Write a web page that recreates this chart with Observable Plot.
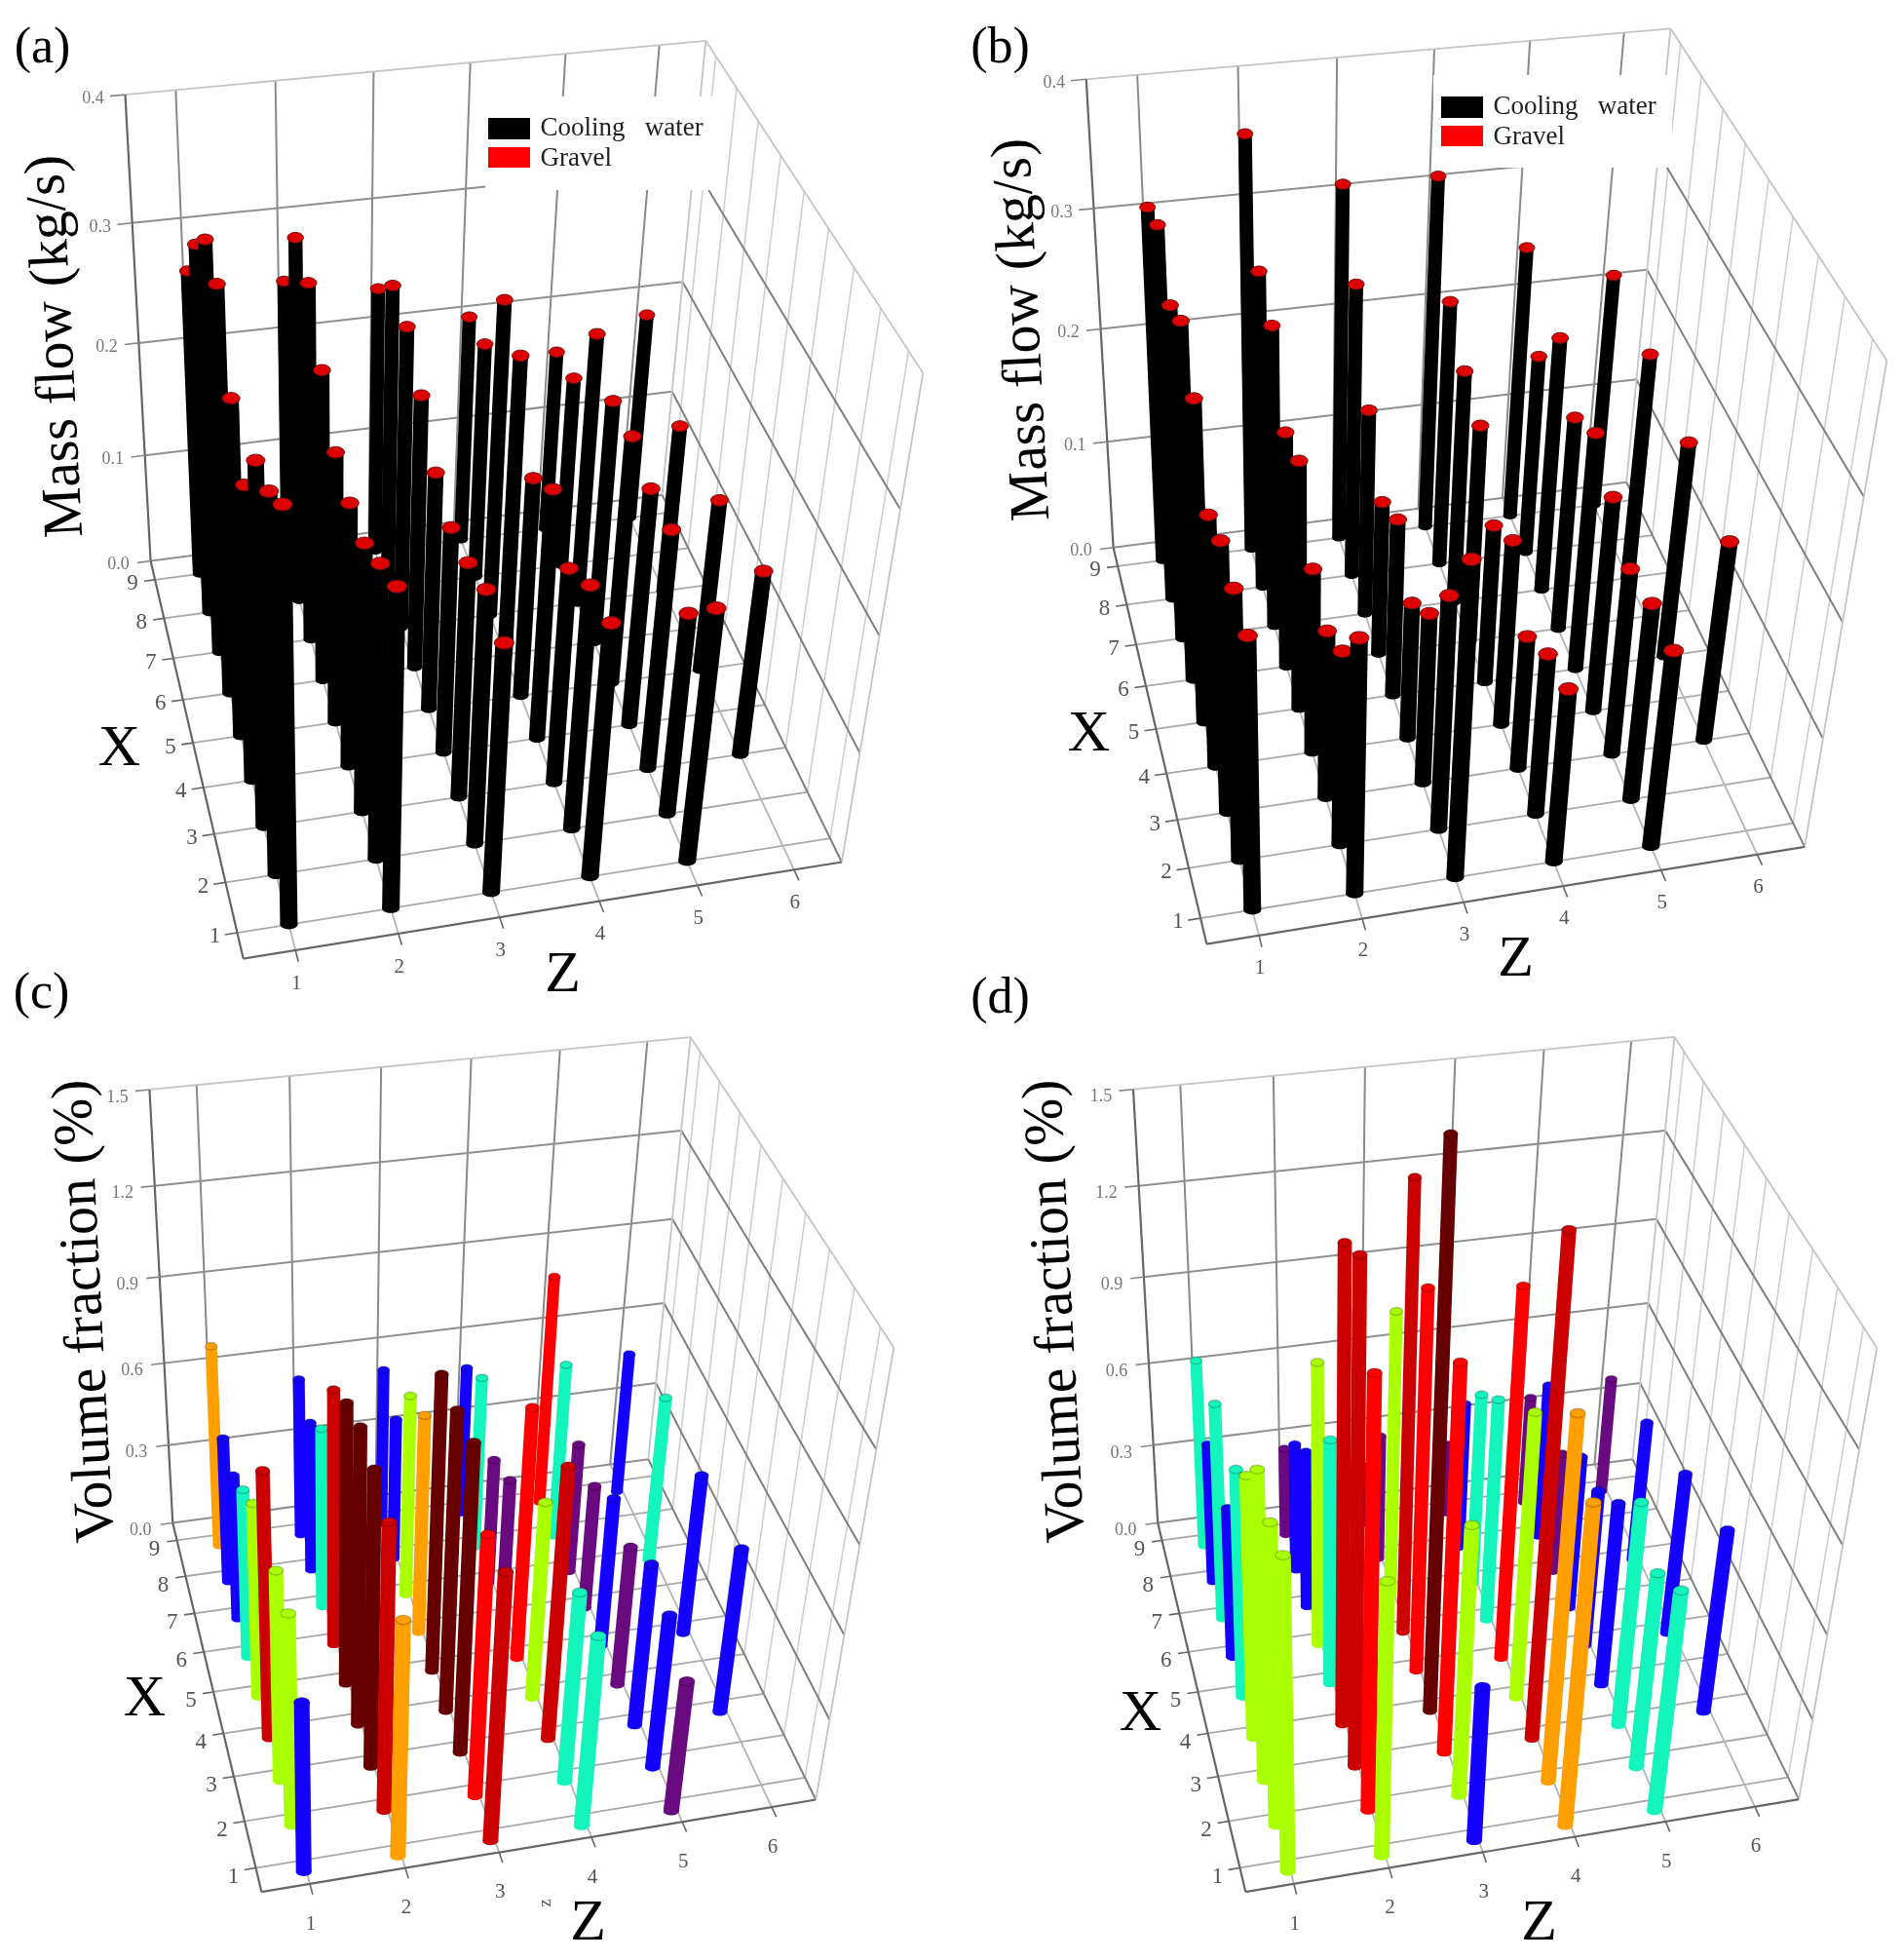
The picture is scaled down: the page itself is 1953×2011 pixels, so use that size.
<!DOCTYPE html>
<html><head><meta charset="utf-8">
<script src="https://cdn.jsdelivr.net/npm/d3@7"></script>
<script src="https://cdn.jsdelivr.net/npm/@observablehq/plot@0.6"></script>
<style>html,body{margin:0;background:#fff}svg{display:block;filter:blur(.7px)}</style></head><body><div id="c"></div>
<script>
// Categories and ticks
const xTicks=[1,2,3,4,5,6,7,8,9];
const zTicks=[1,2,3,4,5,6];
const massTicks=[0,.1,.2,.3,.4];
const fractionTicks=[0,.3,.6,.9,1.2,1.5];
const seriesNames=["Cooling\u00A0\u00A0\u00A0water","Gravel"];

// Series: one row per Z, one value per X = 1..9
const massA=[
[.345,.320,.309,.256,.291,.348,.353,.321,.271],
[.273,.254,.234,.231,.238,.272,.311,.318,.254],
[.217,.222,.207,.200,.211,.242,.267,.271,.239],
[.221,.214,.191,.221,.196,.265,.280,.213,.206],
[.221,.179,.212,.211,.221,.218,.243,.174,.166],
[null,null,.166,null,.156,null,.154,null,.190]];
const massB=[
[.236,.235,.236,.221,.280,.309,.291,.325,.311],
[.222,.172,.150,.165,.220,.210,.266,.280,.361],
[.272,.206,.153,.124,.160,.140,.186,.261,.314],
[.155,.145,.121,.167,.144,.196,.210,.238,.313],
[.175,.176,.168,.193,.213,.193,.229,.182,.246],
[null,null,.180,null,.195,null,.206,null,.214]];
const fractionC=[
[.568,.714,.712,.904,.662,.575,.493,.497,.701],
[.793,.965,.998,1.004,.957,.876,.618,.513,.546],
[.901,.881,1.042,1.018,1.011,.751,.694,.485,.542],
[.643,.643,.925,.672,.864,.482,.425,.597,.512],
[.436,.517,.551,.471,.508,.419,.441,.606,.803],
[null,null,.560,null,.548,null,.571,null,.488]];
const fractionD=[
[1.046,1.009,1.040,.889,.778,.510,.744,.475,.651],
[.919,1.416,1.634,1.560,.835,.967,.537,.435,.290],
[.519,.912,1.289,1.830,1.283,1.508,.981,.424,.182],
[1.077,1.220,1.638,.973,1.254,.766,.660,.503,.225],
[.749,.663,.765,.625,.535,.525,.407,.532,.363],
[null,null,.625,null,.553,null,.481,null,.395]];
// Colour class of each bar in (c) and (d), same layout as the series
const classC=[
[1,3,3,6,3,2,1,1,4],[4,6,7,7,7,6,2,1,1],[6,5,7,7,7,4,3,1,1],[2,2,6,3,5,0,0,2,1],[0,1,1,0,1,0,0,2,5],
[null,null,1,null,1,null,2,null,1]];
const classD=[
[3,3,3,3,2,1,2,1,2],[3,5,6,6,2,3,1,1,0],[1,3,5,7,5,6,3,0,0],[4,4,6,3,5,2,2,1,0],[2,2,2,1,1,1,0,1,0],
[null,null,1,null,1,null,1,null,0]];

// Camera calibration of each 3-D box
const SX=1.607,SY=1.568;
const panels=[
{off:[0,0],vmax:.4,levels:massTicks,values:massA,zdy:33,xdy:3,vdy:3,base:0,
 bl:[[250,900],[237,732],[227,550],[218,358],[205,153]],br:[[1090,800],[1107,628],[1125,450],[1145,265],[1163,65]],fr:[[1387,1385],[1418,1210],[1450,1020],[1485,820],[1520,600]],fl:[400,1543]},
{off:[976,0],vmax:.4,levels:massTicks,values:massB,zdy:32,xdy:3,vdy:3,base:0,
 bl:[[270,880],[255,708],[245,525],[235,335],[222,130]],br:[[1112,780],[1130,610],[1147,430],[1167,245],[1185,45]],fr:[[1407,1360],[1437,1185],[1470,1000],[1505,800],[1543,580]],fl:[420,1520]},
{off:[0,1000],vmax:1.5,levels:fractionTicks,values:fractionC,classes:classC,zdy:40,xdy:8,vdy:7,base:-.045,
 bl:[[283,880],[278,757],[272,625],[263,485],[255,340],[243,183]],br:[[1065,780],[1082,655],[1095,528],[1108,392],[1122,250],[1140,100]],fr:[[1345,1328],[1368,1197],[1393,1060],[1418,915],[1445,765],[1470,600]],fl:[430,1475]},
{off:[976,1000],vmax:1.5,levels:fractionTicks,values:fractionD,classes:classD,zdy:40,xdy:8,vdy:7,base:-.045,
 bl:[[340,880],[333,757],[327,625],[318,485],[308,340],[298,183]],br:[[1120,780],[1137,655],[1150,528],[1163,392],[1177,250],[1193,100]],fr:[[1398,1328],[1420,1197],[1445,1060],[1470,915],[1497,765],[1525,600]],fl:[485,1475]}
];
function solve(A,b){const n=b.length,M=A.map((r,i)=>[...r,b[i]]);for(let i=0;i<n;i++){let p=i;for(let k=i+1;k<n;k++)if(Math.abs(M[k][i])>Math.abs(M[p][i]))p=k;[M[i],M[p]]=[M[p],M[i]];for(let k=i+1;k<n;k++){const f=M[k][i]/M[i][i];for(let j=i;j<=n;j++)M[k][j]-=f*M[i][j];}}const x=Array(n);for(let i=n-1;i>=0;i--){let s=M[i][n];for(let j=i+1;j<n;j++)s-=M[i][j]*x[j];x[i]=s/M[i][i];}return x;}
function fit(rows){const A=[],b=[];for(const [X,Z,T,u,v] of rows){A.push([X,Z,T,1,0,0,0,0,-u*X,-u*Z,-u*T]);b.push(u);A.push([0,0,0,0,X,Z,T,1,-v*X,-v*Z,-v*T]);b.push(v);}
 const n=11,N=Array.from({length:n},()=>Array(n).fill(0)),r=Array(n).fill(0);A.forEach((a,i)=>{for(let j=0;j<n;j++){r[j]+=a[j]*b[i];for(let k=0;k<n;k++)N[j][k]+=a[j]*a[k];}});return solve(N,r);}
const W=1953,H=2011;
const palette=["#6a0a80","#1400ff","#14f5bd","#aaff00","#ff9f00","#ff0000","#cc0000","#660000","#000000"];
const marks=[];
const ell=(ratio)=>({draw(c,size){const r=Math.sqrt(size/Math.PI),rx=r,ry=r*ratio,k=.5523;c.moveTo(rx,0);c.bezierCurveTo(rx,k*ry,k*rx,ry,0,ry);c.bezierCurveTo(-k*rx,ry,-rx,k*ry,-rx,0);c.bezierCurveTo(-rx,-k*ry,-k*rx,-ry,0,-ry);c.bezierCurveTo(k*rx,-ry,rx,-k*ry,rx,0);c.closePath();}});
panels.forEach((p)=>{
 const cv=(q)=>[(p.off[0]+q[0]/SX)/1000,(p.off[1]+q[1]/SY)/1000];
 const rows=[];
 p.levels.forEach((l,i)=>{const t=l/p.vmax;rows.push([1,0,t,...cv(p.bl[i])]);rows.push([1,1,t,...cv(p.br[i])]);rows.push([0,1,t,...cv(p.fr[i])]);});
 rows.push([0,0,0,...cv(p.fl)]);
 const m=fit(rows);
 const nx=x=>(x-.5)/9,nz=z=>(z-.5)/6;
 const P=(x,z,v)=>{const X=nx(x),Z=nz(z),T=v/p.vmax,w=m[8]*X+m[9]*Z+m[10]*T+1;return {x:1000*(m[0]*X+m[1]*Z+m[2]*T+m[3])/w,y:1000*(m[4]*X+m[5]*Z+m[6]*T+m[7])/w};};
 const seg=(a,b)=>{const A=P(...a),B=P(...b);return {x1:A.x,y1:A.y,x2:B.x,y2:B.y};};
 const L=(segs,stroke,sw)=>marks.push(Plot.link(segs,{x1:"x1",y1:"y1",x2:"x2",y2:"y2",stroke,strokeWidth:sw}));
 const top=p.vmax,mid=p.levels.slice(0,-1);
 L(xTicks.map(x=>seg([x,6.5,0],[x,6.5,top])),"#cfcfcf",1.6);
 L(xTicks.map(x=>seg([x,.5,0],[x,6.5,0])),"#a8a8a8",1.8);
 L(zTicks.map(z=>seg([.5,z,0],[9.5,z,0])),"#b4b4b4",1.8);
 L(zTicks.map(z=>seg([9.5,z,0],[9.5,z,top])),"#8a8a8a",2);
 L(mid.map(l=>seg([9.5,.5,l],[9.5,6.5,l])),"#8f8f8f",2);
 L(mid.map(l=>seg([9.5,6.5,l],[.5,6.5,l])),"#7f7f7f",2);
 L([seg([9.5,.5,top],[9.5,6.5,top]),seg([9.5,6.5,top],[.5,6.5,top]),seg([.5,6.5,0],[.5,6.5,top]),seg([9.5,6.5,0],[9.5,6.5,top])],"#c4c4c4",1.8);
 L([seg([.5,.5,0],[9.5,.5,0]),seg([.5,.5,0],[.5,6.5,0]),seg([9.5,.5,0],[9.5,.5,top])],"#666666",2.2);
 L(xTicks.map(x=>seg([x,.5,0],[x,.38,0])),"#666666",1.6);
 L(zTicks.map(z=>seg([.5,z,0],[.28,z,0])),"#666666",1.6);
 L(p.levels.map(l=>seg([9.5,.5,l],[9.5,.35,l])),"#888888",1.6);
 const bars=[];
 p.values.forEach((col,zi)=>col.forEach((v,i)=>{if(v==null)return;bars.push({x:xTicks[i],z:zTicks[zi],v,level:p.classes?p.classes[zi][i]:8});}));
 bars.sort((a,b)=>P(a.x,a.z,0).y-P(b.x,b.z,0).y);
 for(const b of bars){const A=P(b.x,b.z,p.base),T=P(b.x,b.z,b.v);const d={x1:A.x,y1:A.y,x2:T.x,y2:T.y,level:b.level};
  const sw=(p.classes?12:14)+4*(9-b.x)/8;
  marks.push(Plot.link([d],{x1:"x1",y1:"y1",x2:"x2",y2:"y2",stroke:"level",strokeWidth:sw}));
  marks.push(Plot.dot([d],{x:"x1",y:"y1",r:sw/2,symbol:ell(.55),fill:"level"}));
  if(p.classes) marks.push(Plot.dot([d],{x:"x2",y:"y2",r:sw/2,symbol:ell(.6),fill:"level",stroke:"#000",strokeOpacity:.2}));
  else marks.push(Plot.dot([d],{x:"x2",y:"y2",r:sw/2+1,symbol:ell(.65),fill:"#dd0000",stroke:"#701010",strokeWidth:1}));
 }
 const lab=(data,opts)=>marks.push(Plot.text(data,{x:"x",y:"y",text:"t",fontFamily:"Liberation Serif",...opts}));
 lab(xTicks.map(x=>{const q=P(x,.5,0);return {x:q.x-23,y:q.y+p.xdy,t:String(x)}}),{fontSize:23,fill:"#555"});
 lab(zTicks.map(z=>{const q=P(.5,z,0);return {x:q.x+1,y:q.y+p.zdy,t:String(z)}}),{fontSize:21,fill:"#555"});
 lab(p.levels.map(l=>{const q=P(9.5,.5,l);return {x:q.x-33,y:q.y+p.vdy,t:l.toFixed(1)}}),{fontSize:18,fill:"#777"});
});
const panelTags=[{t:"(a)",x:43,y:47},{t:"(b)",x:1026,y:47},{t:"(c)",x:42,y:1017},{t:"(d)",x:1026,y:1022}];
marks.push(Plot.text(panelTags,{x:"x",y:"y",text:"t",fontFamily:"Liberation Serif",fontSize:52,fill:"#000"}));
const axisLetters=[{t:"X",x:122,y:765},{t:"X",x:1117,y:750},{t:"X",x:148,y:1740},{t:"X",x:1170,y:1755},
{t:"Z",x:577,y:997},{t:"Z",x:1555,y:981},{t:"Z",x:603,y:1970},{t:"Z",x:1579,y:1970}];
marks.push(Plot.text(axisLetters,{x:"x",y:"y",text:"t",fontFamily:"Liberation Serif",fontSize:60,fill:"#000"}));
marks.push(Plot.text([{t:"z",x:559,y:1952}],{x:"x",y:"y",text:"t",rotate:-90,fontFamily:"Liberation Serif",fontSize:18,fill:"#555"}));
marks.push(Plot.text([{t:"Mass flow (kg/s)",x:55,y:355},{t:"Mass flow (kg/s)",x:1047,y:338}],{x:"x",y:"y",text:"t",rotate:-93,fontFamily:"Liberation Serif",fontSize:58}));
marks.push(Plot.text([{t:"Volume fraction (%)",x:85,y:1345},{t:"Volume fraction (%)",x:1081,y:1345}],{x:"x",y:"y",text:"t",rotate:-93,fontFamily:"Liberation Serif",fontSize:58}));
// Legends in (a) and (b)
const legends=[{x:498,y:99,x2:737,y2:195},{x:1471,y:77,x2:1716,y2:172}];
marks.push(Plot.rect(legends,{x1:"x",x2:"x2",y1:"y",y2:"y2",fill:"#fff"}));
legends.forEach((l,i)=>{const sx=l.x+(i?8:3),sy=l.y+22;
 marks.push(Plot.rect([{a:sx,b:sx+43,c:sy,d:sy+22}],{x1:"a",x2:"b",y1:"c",y2:"d",fill:"#000"}));
 marks.push(Plot.rect([{a:sx,b:sx+43,c:sy+30,d:sy+51}],{x1:"a",x2:"b",y1:"c",y2:"d",fill:"#ff0000"}));
 marks.push(Plot.text(seriesNames.map((t,j)=>({t,x:sx+53,y:sy+9+31*j})),{x:"x",y:"y",text:"t",textAnchor:"start",fontFamily:"Liberation Serif",fontSize:27,fill:"#222"}));
});
const chart=Plot.plot({width:W,height:H,margin:0,style:{background:"#fff"},x:{domain:[0,W],range:[0,W],axis:null},y:{domain:[0,H],range:[0,H],axis:null},
 color:{type:"ordinal",domain:d3.range(9),range:palette},marks});
document.getElementById("c").append(chart);
</script></body></html>
